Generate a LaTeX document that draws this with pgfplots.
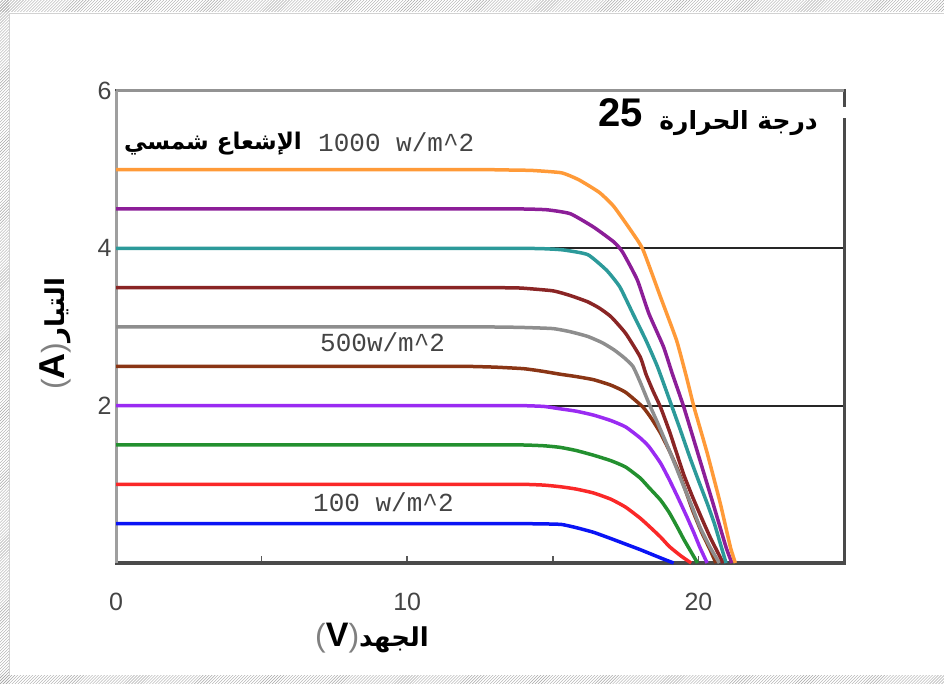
\documentclass[border=0pt]{standalone}
\usepackage{pgfplots}
\pgfplotsset{compat=1.18}
\usetikzlibrary{patterns}
\usepackage{fontspec}
\setmainfont{Liberation Sans}
\newfontfamily\arabicfont[Script=Arabic]{DejaVu Sans}
\newfontfamily\monofont{Liberation Mono}
\TeXXeTstate=1
\definecolor{cBlue}{HTML}{0A14F5}
\definecolor{cRed}{HTML}{FA2828}
\definecolor{cGreen}{HTML}{23902F}
\definecolor{cViolet}{HTML}{9A2BF2}
\definecolor{cBrown}{HTML}{8A3515}
\definecolor{cGrey}{HTML}{8E8E8E}
\definecolor{cDRed}{HTML}{8A2525}
\definecolor{cTeal}{HTML}{2C9A9A}
\definecolor{cPurple}{HTML}{8C1E98}
\definecolor{cOrange}{HTML}{FF9A38}
\definecolor{axgray}{HTML}{4A4A4A}
\definecolor{txtgray}{HTML}{444444}
\begin{document}
\begin{tikzpicture}
\useasboundingbox (0,0) rectangle (944bp,684bp);
% hatched frame
\fill[pattern=north east lines, pattern color=gray!70] (0,672bp) rectangle (944bp,684bp);
\fill[pattern=north east lines, pattern color=gray!70] (0,0) rectangle (9bp,684bp);
\fill[pattern=north east lines, pattern color=gray!70] (0,0) rectangle (944bp,8bp);
\draw[gray!35, line width=0.8bp] (9bp,8bp) -- (9bp,671bp) -- (944bp,671bp);
\begin{axis}[
  at={(116bp,121bp)}, anchor=south west,
  scale only axis, width=728bp, height=472bp,
  xmin=0, xmax=25, ymin=0, ymax=6,
  xtick={0,5,10,15,20,25}, xticklabels={0,,10,,20,},
  ytick={2,4,6},
  xtick pos=left, ytick pos=left,
  major tick length=7bp,
  xtick style={draw=gray!70!black, line width=1.5bp},
  ytick style={draw=none},
  ymajorgrids, grid style={black!85, line width=1.8bp},
  axis line style={draw=axgray, line width=3bp},
  tick label style={font=\fontsize{25bp}{28bp}\selectfont, text=txtgray},
  xticklabel style={yshift=-27bp},
  yticklabel style={xshift=-1bp},
  /pgf/number format/assume math mode=true,
  clip=false,
  every axis plot/.append style={line width=3.5bp, line join=round, no markers, smooth, tension=0.3},
]
% top and left axis lines lighter
\draw[gray!85, line width=3bp] (axis cs:0,6) -- (axis cs:25,6);
\draw[gray!75, line width=3bp] (axis cs:0,0) -- (axis cs:0,6);
\addplot[cBlue] coordinates {(0,0.5)(12,0.5)(13,0.5)(14,0.5)(14.7,0.497)(15.3,0.49)(15.8,0.45)(16.4,0.39)(17.0,0.31)(17.5,0.24)(18.0,0.17)(18.4,0.11)(18.8,0.05)(19.15,0)};
\addplot[cRed] coordinates {(0,1.0)(12,1.0)(13,1.0)(14,1.0)(14.7,0.99)(15.25,0.97)(15.8,0.94)(16.4,0.89)(17.0,0.81)(17.5,0.71)(18.0,0.57)(18.3,0.47)(18.7,0.33)(19.0,0.21)(19.4,0.09)(19.75,0)};
\addplot[cGreen] coordinates {(0,1.5)(12,1.5)(13,1.5)(14,1.5)(14.7,1.49)(15.25,1.47)(15.8,1.43)(16.4,1.37)(17.0,1.30)(17.5,1.22)(18.0,1.08)(18.3,0.96)(18.7,0.80)(19.0,0.64)(19.3,0.44)(19.5,0.30)(19.75,0.14)(19.97,0)};
\addplot[cViolet] coordinates {(0,2.0)(12,2.0)(13,2.0)(14,2.0)(14.7,1.99)(15.25,1.96)(15.8,1.93)(16.4,1.88)(17.0,1.81)(17.5,1.73)(18.0,1.59)(18.3,1.48)(18.7,1.27)(19.0,1.06)(19.3,0.83)(19.6,0.59)(19.85,0.38)(20.05,0.20)(20.3,0)};
\addplot[cBrown] coordinates {(0,2.5)(11,2.5)(12,2.5)(13,2.49)(14.0,2.47)(14.6,2.44)(15.25,2.40)(15.8,2.37)(16.4,2.33)(17.0,2.26)(17.5,2.17)(18.1,1.98)(18.4,1.83)(18.7,1.65)(19.0,1.43)(19.3,1.18)(19.55,0.93)(19.8,0.67)(20.1,0.40)(20.4,0.17)(20.6,0)};
\addplot[cGrey] coordinates {(0,3.0)(11,3.0)(12,3.0)(13,3.0)(13.9,2.995)(15.0,2.98)(15.6,2.94)(16.2,2.88)(16.7,2.80)(17.1,2.71)(17.45,2.61)(17.75,2.50)(18.0,2.30)(18.3,2.03)(18.6,1.78)(18.9,1.52)(19.2,1.25)(19.5,0.97)(19.8,0.70)(20.05,0.46)(20.4,0.20)(20.72,0)};
\addplot[cDRed] coordinates {(0,3.5)(11,3.5)(12,3.5)(13,3.5)(13.9,3.495)(15.0,3.46)(15.6,3.40)(16.2,3.32)(16.6,3.24)(17.0,3.13)(17.5,2.92)(18.0,2.62)(18.2,2.40)(18.45,2.18)(18.7,1.98)(19.0,1.68)(19.25,1.40)(19.5,1.12)(19.8,0.84)(20.1,0.58)(20.4,0.33)(20.85,0)};
\addplot[cTeal] coordinates {(0,4.0)(12,4.0)(13,4.0)(14,4.0)(14.7,3.995)(15.35,3.98)(16.2,3.92)(16.85,3.72)(17.3,3.51)(17.75,3.17)(18.2,2.83)(18.6,2.49)(19.1,1.98)(19.4,1.67)(19.7,1.35)(20.0,1.05)(20.3,0.76)(20.55,0.50)(20.75,0.25)(20.95,0)};
\addplot[cPurple] coordinates {(0,4.5)(12,4.5)(13,4.5)(14,4.5)(14.8,4.49)(15.6,4.44)(16.4,4.27)(17.1,4.08)(17.4,3.95)(17.9,3.60)(18.3,3.17)(18.8,2.75)(19.1,2.41)(19.5,1.98)(20.05,1.31)(20.5,0.76)(20.95,0.20)(21.15,0)};
\addplot[cOrange] coordinates {(0,5.0)(11,5.0)(12,5.0)(12.8,5.0)(13.6,4.995)(14.3,4.99)(15.3,4.96)(15.9,4.87)(16.6,4.71)(17.1,4.53)(17.75,4.19)(18.1,3.98)(18.7,3.38)(19.25,2.83)(19.6,2.35)(19.85,1.98)(20.3,1.40)(20.75,0.76)(21.1,0.20)(21.27,0)};
\end{axis}
% annotations
\node[anchor=base west, inner sep=0, text=txtgray, font=\monofont\fontsize{26bp}{28bp}\selectfont] at (318bp,532bp) {1000 w/m\textasciicircum 2};
\node[anchor=base east, inner sep=0, font=\arabicfont\bfseries\fontsize{23bp}{26bp}\selectfont] at (302bp,534bp) {\beginR الإشعاع شمسي\endR};
\node[anchor=base west, inner sep=0, text=txtgray, font=\monofont\fontsize{26bp}{28bp}\selectfont] at (320bp,332bp) {500w/m\textasciicircum 2};
\node[anchor=base west, inner sep=0, text=txtgray, font=\monofont\fontsize{26bp}{28bp}\selectfont] at (313bp,172bp) {100 w/m\textasciicircum 2};
\fill[white] (836bp,566bp) rectangle (852bp,577bp);
\node[anchor=base west, inner sep=0, font=\bfseries\fontsize{40bp}{44bp}\selectfont] at (598bp,557bp) {25};
\node[anchor=base east, inner sep=0, font=\arabicfont\bfseries\fontsize{25bp}{28bp}\selectfont] at (818bp,554bp) {\beginR درجة الحرارة\endR};
% y label
\node[rotate=90, inner sep=0] at (55bp,350bp) {{\color{gray}\fontsize{32bp}{34bp}\selectfont(}{\bfseries\fontsize{36bp}{38bp}\selectfont A}{\color{gray}\fontsize{32bp}{34bp}\selectfont)}{\arabicfont\bfseries\fontsize{26bp}{28bp}\selectfont\beginR التيار\endR}};
% x label
\node[inner sep=0] at (372bp,46bp) {{\color{gray}\fontsize{32bp}{34bp}\selectfont(}{\bfseries\fontsize{34bp}{36bp}\selectfont V}{\color{gray}\fontsize{32bp}{34bp}\selectfont)}{\arabicfont\bfseries\fontsize{26bp}{28bp}\selectfont\beginR الجهد\endR}};
\end{tikzpicture}
\end{document}
